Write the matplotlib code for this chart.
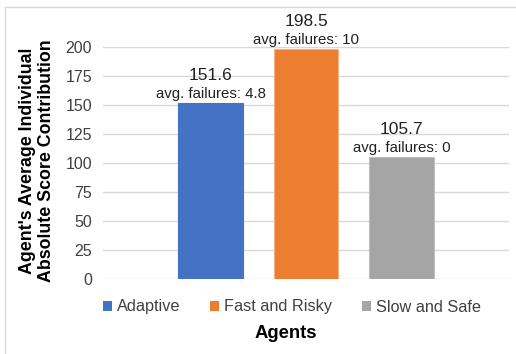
import matplotlib
matplotlib.use("Agg")
import matplotlib.pyplot as plt
from matplotlib.lines import Line2D
from matplotlib.patches import Patch

agents = ["Adaptive", "Fast and Risky", "Slow and Safe"]
scores = [151.6, 198.5, 105.7]
failures = ["4.8", "10", "0"]
colors = ["#4472C4", "#ED7D31", "#A5A5A5"]
edge_colors = ["#4472C4", "#F4B183", "#BFBFBF"]
yticks = [0, 25, 50, 75, 100, 125, 150, 175, 200]

plt.rcParams['font.family'] = ['Liberation Sans', 'DejaVu Sans']

W, H = 516, 354
fig = plt.figure(figsize=(W / 100, H / 100), dpi=100)
ax = fig.add_axes([103 / W, 1 - 279.3 / H, (509 - 103) / W, (279.3 - 47.3) / H])

pos = [-1, 0, 1]
ax.bar(pos, scores, width=0.68, color=colors, edgecolor=edge_colors, linewidth=0.8, zorder=3)
for x, s, f in zip(pos, scores, failures):
    ax.annotate(f"{s}", (x, s), xytext=(0, 14.5), textcoords="offset points",
                ha="center", va="bottom", fontsize=12.5, color="#222222", annotation_clip=False)
    ax.annotate(f"avg. failures: {f}", (x, s), xytext=(0, 1.5), textcoords="offset points",
                ha="center", va="bottom", fontsize=10.8, color="#222222", annotation_clip=False)

ax.set_xlim(-2.126, 2.126)
ax.set_ylim(0, 200)
ax.set_yticks(yticks)
ax.set_xticks([])
ax.tick_params(axis="y", length=0, labelsize=11.5, labelcolor="#404040", pad=8)
ax.yaxis.grid(True, color="#D9D9D9", linewidth=1)
ax.set_axisbelow(True)
for sp in ax.spines.values():
    sp.set_visible(False)

fig.text(37 / W, 1 - 161 / H, "Agent's Average Individual\nAbsolute Score Contribution",
         rotation=90, ha="center", va="center", fontsize=12.8, fontweight="bold",
         linespacing=1.1, color="#000000")
fig.text(286 / W, 1 - 333 / H, "Agents", ha="center", va="center",
         fontsize=13.3, fontweight="bold", color="#000000")

handles = [Patch(facecolor=c, edgecolor="none") for c in colors]
leg = fig.legend(handles, agents, loc="center", bbox_to_anchor=(292 / W, 1 - 307 / H),
                 ncol=3, frameon=False, fontsize=11.7, handlelength=0.55, handleheight=0.55,
                 handletextpad=0.3, columnspacing=1.85)
for t in leg.get_texts():
    t.set_color("#404040")

fig.add_artist(Line2D([5 / W, 5 / W], [0, 1 - 7 / H], color="#D9D9D9", linewidth=1, transform=fig.transFigure))
fig.add_artist(Line2D([5 / W, 1], [1 - 7 / H, 1 - 7 / H], color="#D9D9D9", linewidth=1, transform=fig.transFigure))

fig.savefig("out.png", dpi=100, facecolor="white")
